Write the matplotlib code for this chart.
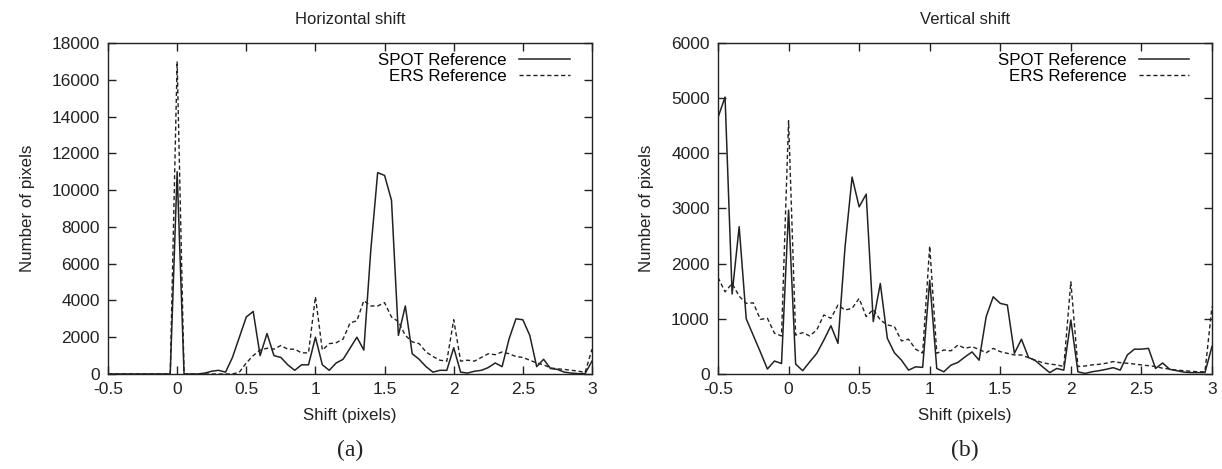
import numpy as np
import matplotlib.pyplot as plt

plt.rcParams['font.family'] = ['Liberation Sans', 'DejaVu Sans']

# shift values, step 0.05 from -0.5 to 3
shift = np.round(np.arange(-0.5, 3.0001, 0.05), 2)

# horizontal shift histograms
h_spot = [0, 0, 0, 0, 0, 0, 0, 0, 0, 0,
          11000, 0, 0, 0, 50, 150, 200, 100, 900, 2000,
          3100, 3400, 1000, 2200, 1000, 900, 500, 200, 500, 500,
          2000, 500, 200, 600, 800, 1400, 2000, 1300, 6700, 10950,
          10800, 9450, 2100, 3700, 1100, 800, 400, 100, 200, 200,
          1430, 100, 50, 150, 200, 350, 600, 400, 1900, 3000,
          2950, 2100, 400, 800, 300, 250, 100, 50, 20, 20,
          700]
h_ers = [0, 0, 0, 0, 0, 0, 0, 0, 0, 0,
         17000, 0, 0, 0, 0, 0, 0, 0, 0, 100,
         600, 1000, 1300, 1400, 1350, 1550, 1350, 1350, 1150, 1150,
         4200, 1300, 1650, 1700, 1900, 2770, 2900, 3990, 3700, 3700,
         3880, 3100, 2850, 2100, 1750, 1650, 1200, 950, 750, 700,
         2950, 700, 750, 700, 900, 1100, 1050, 1200, 1100, 950,
         900, 750, 600, 500, 330, 280, 250, 200, 160, 80,
         1350]

# vertical shift histograms
v_spot = [4650, 5020, 1450, 2670, 1000, 700, 400, 90, 235, 190,
          2970, 180, 60, 220, 375, 615, 875, 555, 2300, 3570,
          3030, 3260, 950, 1640, 645, 385, 250, 70, 130, 120,
          1700, 100, 40, 160, 210, 310, 400, 250, 1040, 1400,
          1280, 1250, 375, 630, 300, 240, 130, 25, 100, 70,
          980, 40, 10, 40, 60, 85, 115, 70, 345, 450,
          450, 465, 100, 200, 85, 60, 35, 25, 25, 25,
          500]
v_ers = [1750, 1490, 1640, 1410, 1280, 1290, 990, 1010, 740, 690,
         4590, 705, 750, 690, 800, 1070, 1010, 1250, 1160, 1190,
         1370, 1040, 1170, 980, 890, 860, 600, 630, 450, 380,
         2320, 375, 435, 420, 525, 465, 495, 445, 385, 465,
         405, 375, 345, 345, 295, 250, 205, 180, 165, 135,
         1670, 135, 145, 165, 175, 195, 225, 205, 195, 180,
         165, 150, 135, 105, 90, 70, 60, 50, 40, 40,
         1220]

xticks = [-0.5, 0, 0.5, 1, 1.5, 2, 2.5, 3]
xtick_labels = ['-0.5', '0', '0.5', '1', '1.5', '2', '2.5', '3']

fig = plt.figure(figsize=(12.22, 4.69), dpi=100)
ax1 = fig.add_axes([108/1222, 1 - 374/469, 484/1222, 331/469])
ax2 = fig.add_axes([718/1222, 1 - 374/469, 494/1222, 331/469])

panels = [(ax1, h_spot, h_ers, 'Horizontal shift', 18000, 2000, '(a)'),
          (ax2, v_spot, v_ers, 'Vertical shift', 6000, 1000, '(b)')]

ink = '#222222'
for ax, spot, ers, title, ymax, ystep, tag in panels:
    ax.plot(shift, spot, color=ink, lw=1.1, label='SPOT Reference')
    ax.plot(shift, ers, color=ink, lw=1.0, dashes=(3, 2), label='ERS Reference')
    ax.set_xlim(-0.5, 3)
    ax.set_ylim(0, ymax)
    ax.set_xticks(xticks)
    ax.set_xticklabels(xtick_labels)
    ax.set_yticks(np.arange(0, ymax + 1, ystep))
    ax.tick_params(direction='in', top=True, right=True, length=6, width=1,
                   labelsize=12.5, colors=ink, pad=6)
    for s in ax.spines.values():
        s.set_linewidth(1.0)
        s.set_color(ink)
    ax.set_title(title, fontsize=12, pad=14, color=ink)
    ax.set_xlabel('Shift (pixels)', fontsize=12.2, labelpad=8, color=ink)
    ax.set_ylabel('Number of pixels', fontsize=12.2, labelpad=12, color=ink)
    ax.legend(loc='upper right', frameon=False, markerfirst=False, fontsize=12.2,
              handlelength=3.0, handletextpad=0.7, labelspacing=0.05,
              borderaxespad=0.3, borderpad=0.3, bbox_to_anchor=(0.975, 1.0))
    ax.text(0.5, -0.232, tag, transform=ax.transAxes, ha='center', va='center',
            fontsize=17, family='Liberation Serif', color=ink)

plt.savefig('out.png', dpi=100)
